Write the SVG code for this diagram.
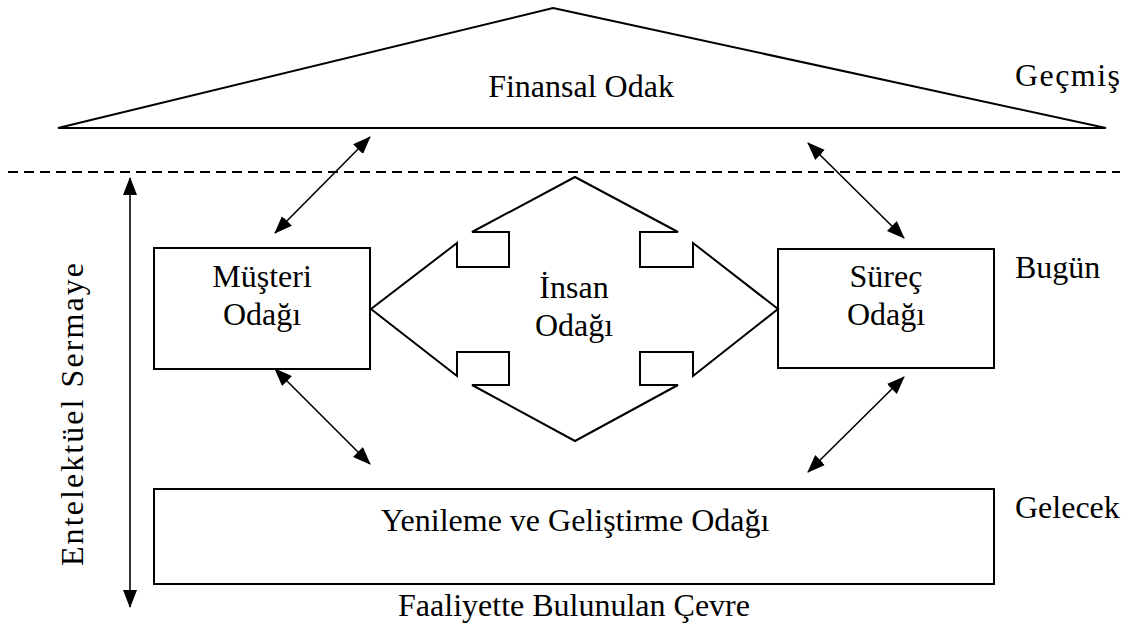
<svg xmlns="http://www.w3.org/2000/svg" width="1129" height="634" viewBox="0 0 1129 634">
<defs>
<style>
.t{font-family:"Liberation Serif","Times New Roman",serif;font-size:32px;fill:#000}
.m{text-anchor:middle}
.s{fill:#fff;stroke:#000;stroke-width:2}
.c{stroke:#000;stroke-width:1.6;fill:none}
</style>
<marker id="ah" markerUnits="userSpaceOnUse" markerWidth="18" markerHeight="14" refX="17" refY="7" orient="auto-start-reverse" viewBox="0 0 18 14">
<path d="M0,0 L18,7 L0,14 z" fill="#000"/>
</marker>
</defs>
<rect width="1129" height="634" fill="#fff"/>
<g id="finansal">
<polygon class="s" points="553,8 1106,128 58,128"/>
<text class="t m" x="581" y="97">Finansal Odak</text>
</g>
<g id="labels">
<text class="t" x="1015" y="86" textLength="105" lengthAdjust="spacing">Geçmiş</text>
<text class="t" x="1015" y="278">Bugün</text>
<text class="t" x="1015" y="518">Gelecek</text>
<text class="t m" x="574" y="616">Faaliyette Bulunulan Çevre</text>
<text class="t" transform="translate(83,566) rotate(-90)" x="0" y="0" textLength="303" lengthAdjust="spacing">Entelektüel Sermaye</text>
</g>
<g id="musteri">
<rect class="s" x="154" y="248" width="216" height="121"/>
<text class="t m" x="262" y="287">Müşteri</text>
<text class="t m" x="262" y="325">Odağı</text>
</g>
<g id="surec">
<rect class="s" x="778" y="249" width="216" height="119"/>
<text class="t m" x="886" y="287">Süreç</text>
<text class="t m" x="886" y="325">Odağı</text>
</g>
<g id="insan">
<polygon class="s" points="575,177 678,232 640,232 640,267 693,267 693,243 778,309 693,376 693,352 640,352 640,385 678,385 575,441 472,385 509,385 509,352 457,352 457,376 371,309 457,243 457,267 509,267 509,232 472,232"/>
<text class="t m" x="574" y="298">İnsan</text>
<text class="t m" x="574" y="336">Odağı</text>
</g>
<g id="yenileme">
<rect class="s" x="154" y="489" width="840" height="95"/>
<text class="t m" x="575" y="531">Yenileme ve Geliştirme Odağı</text>
</g>
<g id="connectors">
<line x1="8" y1="172" x2="1120" y2="172" stroke="#000" stroke-width="2" stroke-dasharray="10,6"/>
<line class="c" x1="130" y1="178" x2="130" y2="607" marker-start="url(#ah)" marker-end="url(#ah)"/>
<line class="c" x1="370" y1="137" x2="275" y2="233" marker-start="url(#ah)" marker-end="url(#ah)"/>
<line class="c" x1="808" y1="143" x2="904" y2="238" marker-start="url(#ah)" marker-end="url(#ah)"/>
<line class="c" x1="275" y1="369" x2="370" y2="464" marker-start="url(#ah)" marker-end="url(#ah)"/>
<line class="c" x1="904" y1="377" x2="808" y2="472" marker-start="url(#ah)" marker-end="url(#ah)"/>
</g>
</svg>
